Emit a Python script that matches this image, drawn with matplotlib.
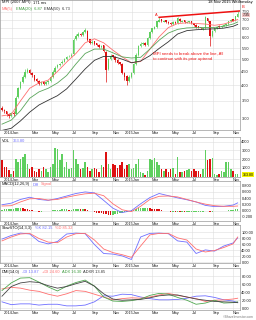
import matplotlib
matplotlib.use('Agg')
import matplotlib.pyplot as plt
import matplotlib.dates as mdates
import numpy as np
import pandas as pd

plt.rcParams['font.family'] = ['Liberation Sans', 'DejaVu Sans']

#%% data (weekly bars)

dates = pd.date_range('2013-12-02', periods=103, freq='7D')

close = [3.25, 3.20, 3.12, 3.08, 3.15, 3.12, 3.60, 3.90, 4.10, 4.30,
         4.50, 4.55, 4.45, 4.35, 4.20, 4.15, 4.05, 4.10, 4.05, 4.10,
         4.15, 4.30, 4.50, 4.65, 4.75, 4.80, 4.90, 5.00, 5.10, 5.15,
         5.20, 5.90, 6.10, 6.20, 6.15, 6.30, 6.40, 5.90, 5.75, 5.80,
         5.70, 5.65, 5.55, 5.60, 5.35, 4.55, 5.00, 5.15, 5.10, 4.95,
         4.85, 4.80, 4.45, 4.30, 4.15, 4.30, 4.45, 4.80, 5.20, 5.60,
         5.70, 5.72, 5.65, 6.00, 6.30, 6.50, 6.60, 6.90, 7.00, 6.90,
         6.95, 6.85, 6.80, 6.75, 6.85, 6.80, 7.10, 6.90, 6.95, 6.85,
         6.88, 6.90, 6.80, 6.70, 6.60, 6.55, 6.50, 6.50, 7.15, 6.90,
         6.10, 6.35, 6.50, 6.60, 6.60, 6.65, 6.70, 6.75, 6.90, 7.00,
         6.95, 7.20, 7.35]
opn = [3.30, 3.25, 3.20, 3.12, 3.08, 3.16, 3.14, 3.62, 3.92, 4.12,
       4.30, 4.48, 4.56, 4.45, 4.36, 4.22, 4.16, 4.04, 4.12, 4.04,
       4.10, 4.15, 4.30, 4.50, 4.66, 4.74, 4.82, 4.90, 5.00, 5.12,
       5.15, 5.22, 5.92, 6.10, 6.22, 6.14, 6.30, 6.35, 5.92, 5.74,
       5.82, 5.72, 5.66, 5.54, 5.62, 5.32, 4.60, 5.00, 5.16, 5.10,
       4.96, 4.86, 4.80, 4.46, 4.32, 4.14, 4.30, 4.44, 4.80, 5.20,
       5.58, 5.68, 5.74, 5.66, 6.00, 6.30, 6.48, 6.60, 6.88, 7.02,
       6.88, 6.96, 6.86, 6.82, 6.74, 6.86, 6.80, 7.05, 6.88, 6.96,
       6.84, 6.86, 6.92, 6.80, 6.72, 6.62, 6.56, 6.48, 6.52, 7.10,
       6.92, 6.12, 6.36, 6.50, 6.62, 6.58, 6.66, 6.70, 6.76, 6.90,
       7.02, 6.96, 7.18]
high = [3.35, 3.28, 3.22, 3.15, 3.18, 3.20, 3.65, 3.95, 4.15, 4.35,
        4.58, 4.62, 4.60, 4.48, 4.38, 4.25, 4.18, 4.14, 4.15, 4.14,
        4.20, 4.34, 4.54, 4.70, 4.80, 4.85, 4.95, 5.05, 5.15, 5.20,
        5.25, 5.98, 6.18, 6.28, 6.25, 6.38, 6.55, 6.40, 5.95, 5.88,
        5.85, 5.75, 5.70, 5.66, 5.65, 5.35, 5.05, 5.22, 5.20, 5.12,
        5.00, 4.90, 4.85, 4.50, 4.35, 4.35, 4.50, 4.85, 5.25, 5.65,
        5.78, 5.80, 5.78, 6.05, 6.35, 6.55, 6.65, 6.95, 7.15, 7.05,
        7.00, 7.00, 6.90, 6.85, 6.90, 6.90, 7.15, 7.08, 7.00, 7.00,
        6.95, 6.95, 6.95, 6.82, 6.75, 6.65, 6.60, 6.55, 7.22, 7.12,
        6.95, 6.40, 6.55, 6.65, 6.68, 6.70, 6.74, 6.80, 6.95, 7.05,
        7.05, 7.25, 7.55]
low = [3.22, 3.15, 3.08, 3.02, 3.05, 3.08, 3.12, 3.58, 3.88, 4.08,
       4.26, 4.44, 4.40, 4.30, 4.15, 4.10, 4.00, 4.00, 4.00, 4.00,
       4.06, 4.12, 4.26, 4.46, 4.62, 4.70, 4.78, 4.86, 4.96, 5.08,
       5.10, 5.18, 5.88, 6.05, 6.08, 6.10, 6.25, 5.85, 5.70, 5.70,
       5.65, 5.60, 5.50, 5.50, 5.30, 4.10, 4.55, 4.95, 5.05, 4.90,
       4.80, 4.75, 4.40, 4.20, 4.00, 4.10, 4.25, 4.40, 4.75, 5.15,
       5.55, 5.62, 5.58, 5.60, 5.95, 6.25, 6.45, 6.55, 6.85, 6.85,
       6.85, 6.80, 6.75, 6.70, 6.70, 6.75, 6.78, 6.85, 6.85, 6.82,
       6.80, 6.80, 6.75, 6.65, 6.55, 6.50, 6.45, 6.42, 6.48, 6.85,
       5.60, 6.05, 6.30, 6.45, 6.52, 6.55, 6.62, 6.66, 6.72, 6.85,
       6.90, 6.92, 7.15]
volume = [1900, 1100, 1100, 750, 300, 600, 2000, 1700, 2000, 2200,
          2600, 1500, 900, 1100, 700, 550, 900, 700, 1100, 900,
          550, 1100, 1500, 3300, 3200, 1900, 2600, 1100, 1700, 900,
          1000, 3100, 2000, 1500, 900, 1000, 1700, 1100, 700, 900,
          1000, 900, 550, 1300, 1100, 2800, 1500, 900, 1500, 1300,
          1000, 1300, 1700, 900, 1300, 1500, 900, 1000, 1500, 2000,
          550, 400, 200, 700, 2000, 1900, 2100, 1700, 1300, 900,
          700, 900, 550, 900, 1000, 350, 2200, 550, 550, 700,
          800, 900, 700, 900, 600, 600, 350, 900, 3100, 1900,
          2000, 2100, 350, 200, 350, 700, 550, 1700, 1700, 900,
          700, 350, 363.8]
macd_hist = [0.03, 0.04, 0.05, 0.05, 0.06, 0.07, 0.08, 0.09, 0.09, 0.08,
             0.07, 0.05, 0.03, 0.01, -0.01, -0.02, -0.03, -0.03, -0.02, -0.02,
             -0.01, 0.00, 0.01, 0.02, 0.03, 0.03, 0.04, 0.04, 0.04, 0.03,
             0.03, 0.05, 0.06, 0.06, 0.05, 0.05, 0.04, 0.02, 0.00, -0.02,
             -0.04, -0.06, -0.07, -0.08, -0.09, -0.12, -0.13, -0.14, -0.13, -0.12,
             -0.10, -0.08, -0.07, -0.05, -0.03, -0.01, 0.01, 0.03, 0.06, 0.08,
             0.09, 0.09, 0.09, 0.09, 0.08, 0.07, 0.06, 0.05, 0.04, 0.02,
             0.00, -0.01, -0.02, -0.03, -0.03, -0.04, -0.03, -0.04, -0.04, -0.05,
             -0.05, -0.05, -0.05, -0.04, -0.04, -0.04, -0.03, -0.03, -0.02, -0.02,
             -0.04, -0.03, -0.02, -0.02, -0.01, -0.01, 0.00, 0.00, 0.01, 0.02,
             0.03, 0.04, 0.06]

# indicator lines, sampled every 4 weeks (plus last week)
ind_dates = list(dates[::4]) + [dates[-1]]
ma_red = [3.08, 3.12, 3.50, 3.90, 4.08, 4.18, 4.50, 4.88, 5.25, 5.75, 5.95, 5.75, 5.40, 5.10,
          4.85, 4.90, 5.45, 6.05, 6.55, 6.78, 6.82, 6.78, 6.75, 6.68, 6.75, 6.92, 7.02]
ema20 = [2.87, 2.97, 3.22, 3.58, 3.78, 3.90, 4.08, 4.35, 4.80, 5.25, 5.45, 5.45, 5.28, 5.10,
         5.05, 5.08, 5.45, 5.88, 6.25, 6.45, 6.53, 6.55, 6.55, 6.56, 6.62, 6.75, 6.87]
ema50 = [2.72, 2.77, 2.95, 3.18, 3.38, 3.52, 3.66, 3.88, 4.22, 4.60, 4.95, 5.12, 5.12, 5.00,
         4.85, 4.92, 5.15, 5.48, 5.80, 6.20, 6.38, 6.43, 6.46, 6.48, 6.52, 6.62, 6.73]
macd_diff = [0.19, 0.24, 0.36, 0.43, 0.36, 0.33, 0.39, 0.47, 0.55, 0.60, 0.57, 0.33, 0.08, -0.06,
             0.00, 0.22, 0.42, 0.55, 0.48, 0.41, 0.35, 0.28, 0.17, 0.13, 0.14, 0.18, 0.25]
macd_signal = [0.15, 0.16, 0.28, 0.38, 0.39, 0.34, 0.36, 0.43, 0.49, 0.54, 0.56, 0.48, 0.22, 0.03,
               -0.03, 0.14, 0.36, 0.46, 0.47, 0.44, 0.36, 0.28, 0.21, 0.16, 0.14, 0.14, 0.15]
sto_k = [78, 90, 98, 95, 70, 62, 70, 95, 98, 96, 60, 30, 28, 22,
         10, 85, 97, 98, 96, 72, 68, 30, 42, 38, 55, 65, 82]
sto_d = [72, 85, 95, 97, 80, 68, 66, 85, 96, 97, 75, 45, 33, 26,
         17, 55, 92, 97, 97, 82, 75, 45, 35, 40, 50, 62, 85]
di_minus = [16, 9, 11, 11, 8, 10, 10, 6, 6, 8, 16, 31, 30, 35,
            34, 28, 24, 21, 21, 22, 25, 30, 31, 27, 21, 18, 14]
di_plus = [48, 52, 50, 45, 42, 35, 30, 36, 44, 42, 35, 28, 21, 24,
           26, 25, 28, 33, 37, 32, 28, 24, 17, 20, 21, 23, 25]
adx = [44, 63, 75, 76, 65, 53, 43, 55, 64, 70, 55, 28, 18, 17,
       19, 23, 32, 37, 35, 27, 20, 10, 13, 20, 13, 14, 16]
adxr = [30, 54, 63, 66, 64, 56, 50, 54, 61, 67, 55, 36, 23, 20,
        21, 22, 26, 31, 33, 33, 28, 23, 20, 17, 16, 15, 14]

trend_dates = ['2015-03-23', '2015-11-23']
trend_vals = [7.15, 7.55]

price_ticks = [3.0, 3.5, 4.0, 4.5, 5.0, 5.5, 6.0, 6.5, 7.0, 7.5]

#%% styling helpers

W, H = 256, 320
GREEN = '#5fcf5f'
RED = '#dd1111'
BLUE = '#6f6fff'
PINK = '#ff6f6f'
FS = 2.9

x = mdates.date2num(dates)
xi = mdates.date2num(ind_dates)
xmin = mdates.date2num(pd.Timestamp('2013-11-26'))
xmax = mdates.date2num(pd.Timestamp('2015-11-23'))
up = np.array(close) >= np.array(opn)
cols = np.where(up, GREEN, RED)

fig = plt.figure(figsize=(W / 100, H / 100), dpi=100)
renderer = fig.canvas.get_renderer()


def panel(top, bottom):
    ax = fig.add_axes([0, 1 - bottom / H, 240 / W, (bottom - top) / H])
    ax.set_xlim(xmin, xmax)
    for s in ax.spines.values():
        s.set_color('#9a9a9a')
        s.set_linewidth(0.5)
    ax.yaxis.tick_right()
    ax.tick_params(length=0, labelsize=FS, pad=1, colors='#222222')
    ax.xaxis.set_major_locator(mdates.MonthLocator(bymonth=[1, 3, 5, 7, 9, 11]))
    ax.grid(True, color='#dddddd', lw=0.4)
    ax.set_axisbelow(True)
    return ax


def fix_xlabels(ax):
    ticks = ax.get_xticks()
    labels = []
    for t in ticks:
        d = mdates.num2date(t)
        labels.append(('%d' % d.year if d.month == 1 else '') + d.strftime('%b'))
    ax.set_xticks(ticks)
    ax.set_xticklabels(labels)
    for lab in ax.get_xticklabels():
        lab.set_horizontalalignment('center' if lab.get_text()[0].isdigit() else 'left')
    ax.set_xlim(xmin, xmax)


def chain(px, py, pieces, size=FS):
    # draw coloured legend pieces one after another
    cur = px
    for s, c in pieces:
        t = fig.text(cur / W, 1 - py / H, s, color=c, fontsize=size, va='center')
        cur += t.get_window_extent(renderer=renderer).width + 2.5


#%% price panel
ax1 = panel(0, 130)
ax1.set_yscale('log')
ax1.set_ylim(2.73, 8.29)
ax1.set_yticks(price_ticks)
ax1.set_yticklabels(['%.2f' % v for v in price_ticks])
ax1.yaxis.set_minor_locator(matplotlib.ticker.NullLocator())
ax1.vlines(x, low, high, color=cols, lw=0.5)
body = np.maximum(np.abs(np.array(close) - np.array(opn)), 0.01)
ax1.bar(x, body, bottom=np.minimum(close, opn), width=4.6, color=cols, lw=0)
ax1.plot(xi, ma_red, color=PINK, lw=0.6)
ax1.plot(xi, ema20, color='#5aa55a', lw=0.6)
ax1.plot(xi, ema50, color='#333333', lw=0.6)
tx = mdates.date2num(pd.to_datetime(trend_dates))
ax1.plot(tx, trend_vals, color='#ee1111', lw=1.1)
ax1.text(tx[0] - 4, trend_vals[0], 'A', color='#ee1111', fontsize=FS, ha='right', va='bottom')
ax1.text(1.005, 0.948, 'B', color='#ee1111', fontsize=FS, va='center', transform=ax1.transAxes)
ax1.text(0.6375, 0.565, 'MPI needs to break above the line, All\nto continue with its prior uptrend',
         transform=ax1.transAxes, color='#ee1111', fontsize=3.1, va='center', linespacing=1.4)
ax1.text(1.01, 0.885, '%.2f' % close[-1], transform=ax1.transAxes,
         fontsize=2.6, va='center', bbox=dict(boxstyle='square,pad=0.1', fc='#f4c6c6', ec='none'))
fix_xlabels(ax1)

chain(2, 2.5, [('MPI (2007.MPI)', '#111111'), ('171 ms', '#111111')])
fig.text(253 / W, 1 - 2.3 / H, '18 Nov 2015 Wednesday', fontsize=FS, ha='right', va='center')
chain(2, 9, [('MA(5)', PINK), ('EMA(20)  6.87', '#3d9a3d'), ('EMA(50)  6.73', '#333333')])

#%% volume panel
ax2 = panel(137, 176.7)
ax2.set_ylim(0, 4540)
ax2.bar(x, volume, width=4.6, color=cols, lw=0)
ax2.set_yticks([1000, 2000, 3000, 4000])
ax2.text(1.01, 250, '%.2f' % volume[-1], transform=ax2.get_yaxis_transform(),
         fontsize=2.6, va='center', bbox=dict(boxstyle='square,pad=0.1', fc='#f5f500', ec='none'))
fix_xlabels(ax2)
chain(2, 140.5, [('VOL', '#111111'), ('363.80', BLUE)])

#%% MACD panel
ax3 = panel(181, 221)
ax3.set_ylim(-0.33, 0.95)
hc = [GREEN if i == 0 or macd_hist[i] >= macd_hist[i - 1] else RED for i in range(len(macd_hist))]
ax3.bar(x, macd_hist, width=4.6, color=hc, lw=0)
ax3.plot(xi, macd_diff, color=BLUE, lw=0.6)
ax3.plot(xi, macd_signal, color=PINK, lw=0.6)
mt = [-0.2, 0.0, 0.2, 0.4, 0.6, 0.8]
ax3.set_yticks(mt)
ax3.set_yticklabels(['%.3f' % v for v in mt])
fix_xlabels(ax3)
chain(2, 184.5, [('MACD(12,26,9)', '#111111'), ('Diff', BLUE), ('Signal', PINK)])

#%% slow stochastic panel
ax4 = panel(225, 263)
ax4.set_ylim(-1.7, 125)
ax4.plot(xi, sto_k, color=BLUE, lw=0.6)
ax4.plot(xi, sto_d, color=PINK, lw=0.6)
st = [0, 20, 40, 60, 80, 100]
ax4.set_yticks(st)
ax4.set_yticklabels(['%.2f' % v for v in st])
fix_xlabels(ax4)
chain(2, 228, [('SlowSTO(14,3,3)', '#111111'), ('%K 82.15', BLUE), ('%D 85.32', PINK)])

#%% DMI panel
ax5 = panel(268, 309.5)
ax5.set_ylim(-3, 100)
ax5.plot(xi, di_minus, color=BLUE, lw=0.6)
ax5.plot(xi, di_plus, color=PINK, lw=0.6)
ax5.plot(xi, adx, color='#4fa84f', lw=0.6)
ax5.plot(xi, adxr, color='#444444', lw=0.6)
dt = [0, 20, 40, 60, 80]
ax5.set_yticks(dt)
ax5.set_yticklabels(['%.2f' % v for v in dt])
fix_xlabels(ax5)
chain(2, 272, [('DMI(14,0)', '#111111'), ('-DI 13.87', BLUE), ('+DI 24.60', PINK),
               ('ADX 16.30', '#3d9a3d'), ('ADXR 13.85', '#333333')])
fig.text(254 / W, 1 - 317.5 / H, '\u00a9ShareInvestor.com', color='#777777', fontsize=2.4,
         ha='right', va='center')

plt.savefig('out.png', dpi=100)
